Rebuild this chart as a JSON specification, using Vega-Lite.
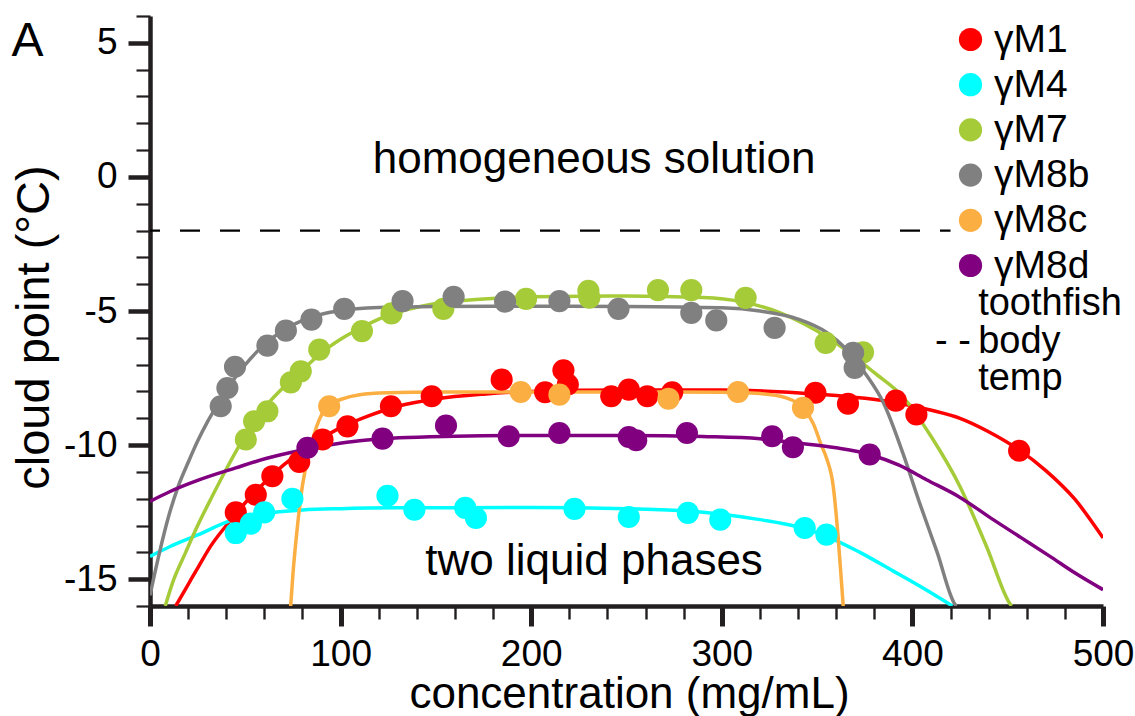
{
  "$schema": "https://vega.github.io/schema/vega-lite/v6.json",
  "width": 953,
  "height": 590,
  "autosize": {"type": "none"},
  "padding": {"left": 150, "top": 16, "right": 32, "bottom": 110},
  "background": "white",
  "config": {
    "view": {"stroke": null},
    "font": "Liberation Sans"
  },
  "resolve": {"axis": {"x": "independent", "y": "independent"}},
  "datasets": {
    "points": [
      {"series": "γM1", "conc": 45, "temp": -12.51},
      {"series": "γM1", "conc": 55.5, "temp": -11.85},
      {"series": "γM1", "conc": 64.2, "temp": -11.16},
      {"series": "γM1", "conc": 78.3, "temp": -10.63},
      {"series": "γM1", "conc": 90.5, "temp": -9.79},
      {"series": "γM1", "conc": 103.6, "temp": -9.3},
      {"series": "γM1", "conc": 126.4, "temp": -8.55},
      {"series": "γM1", "conc": 147.8, "temp": -8.18},
      {"series": "γM1", "conc": 184.5, "temp": -7.56},
      {"series": "γM1", "conc": 207.3, "temp": -8.03},
      {"series": "γM1", "conc": 216.9, "temp": -7.21},
      {"series": "γM1", "conc": 219.2, "temp": -7.74},
      {"series": "γM1", "conc": 242, "temp": -8.18},
      {"series": "γM1", "conc": 251.2, "temp": -7.93},
      {"series": "γM1", "conc": 260.9, "temp": -8.18},
      {"series": "γM1", "conc": 274, "temp": -8.03},
      {"series": "γM1", "conc": 349.1, "temp": -8.05},
      {"series": "γM1", "conc": 366.2, "temp": -8.46},
      {"series": "γM1", "conc": 391.3, "temp": -8.34},
      {"series": "γM1", "conc": 402.1, "temp": -8.86},
      {"series": "γM1", "conc": 456, "temp": -10.21},
      {"series": "γM4", "conc": 45, "temp": -13.28},
      {"series": "γM4", "conc": 52.9, "temp": -12.93},
      {"series": "γM4", "conc": 59.9, "temp": -12.51},
      {"series": "γM4", "conc": 74.7, "temp": -12.0},
      {"series": "γM4", "conc": 124.6, "temp": -11.89},
      {"series": "γM4", "conc": 138.7, "temp": -12.41},
      {"series": "γM4", "conc": 165.4, "temp": -12.34},
      {"series": "γM4", "conc": 171, "temp": -12.72},
      {"series": "γM4", "conc": 222.7, "temp": -12.38},
      {"series": "γM4", "conc": 251.2, "temp": -12.68},
      {"series": "γM4", "conc": 282.2, "temp": -12.53},
      {"series": "γM4", "conc": 299.2, "temp": -12.78},
      {"series": "γM4", "conc": 343.5, "temp": -13.09},
      {"series": "γM4", "conc": 354.9, "temp": -13.34},
      {"series": "γM7", "conc": 50.3, "temp": -9.79},
      {"series": "γM7", "conc": 54.6, "temp": -9.11},
      {"series": "γM7", "conc": 61.6, "temp": -8.74},
      {"series": "γM7", "conc": 73.9, "temp": -7.66},
      {"series": "γM7", "conc": 79.1, "temp": -7.25},
      {"series": "γM7", "conc": 88.8, "temp": -6.44},
      {"series": "γM7", "conc": 111.2, "temp": -5.75},
      {"series": "γM7", "conc": 126.7, "temp": -5.09},
      {"series": "γM7", "conc": 153.9, "temp": -4.92},
      {"series": "γM7", "conc": 197.3, "temp": -4.55},
      {"series": "γM7", "conc": 230, "temp": -4.25},
      {"series": "γM7", "conc": 230.5, "temp": -4.5},
      {"series": "γM7", "conc": 266.5, "temp": -4.22},
      {"series": "γM7", "conc": 284, "temp": -4.22},
      {"series": "γM7", "conc": 312.5, "temp": -4.51},
      {"series": "γM7", "conc": 354.5, "temp": -6.19},
      {"series": "γM7", "conc": 374.1, "temp": -6.54},
      {"series": "γM8b", "conc": 37.1, "temp": -8.55},
      {"series": "γM8b", "conc": 40.6, "temp": -7.87},
      {"series": "γM8b", "conc": 44.6, "temp": -7.08},
      {"series": "γM8b", "conc": 61.6, "temp": -6.29},
      {"series": "γM8b", "conc": 71.3, "temp": -5.73},
      {"series": "γM8b", "conc": 84.7, "temp": -5.32},
      {"series": "γM8b", "conc": 101.9, "temp": -4.92},
      {"series": "γM8b", "conc": 132.5, "temp": -4.63},
      {"series": "γM8b", "conc": 159.3, "temp": -4.47},
      {"series": "γM8b", "conc": 186.3, "temp": -4.65},
      {"series": "γM8b", "conc": 214.8, "temp": -4.63},
      {"series": "γM8b", "conc": 245.8, "temp": -4.92},
      {"series": "γM8b", "conc": 284, "temp": -5.07},
      {"series": "γM8b", "conc": 297.1, "temp": -5.35},
      {"series": "γM8b", "conc": 327.7, "temp": -5.63},
      {"series": "γM8b", "conc": 368.9, "temp": -6.56},
      {"series": "γM8b", "conc": 369.7, "temp": -7.12},
      {"series": "γM8c", "conc": 94, "temp": -8.55},
      {"series": "γM8c", "conc": 194.5, "temp": -8.02},
      {"series": "γM8c", "conc": 214.8, "temp": -8.12},
      {"series": "γM8c", "conc": 272, "temp": -8.27},
      {"series": "γM8c", "conc": 308.5, "temp": -8.02},
      {"series": "γM8c", "conc": 342.6, "temp": -8.61},
      {"series": "γM8d", "conc": 82.6, "temp": -10.1},
      {"series": "γM8d", "conc": 122, "temp": -9.76},
      {"series": "γM8d", "conc": 155.3, "temp": -9.27},
      {"series": "γM8d", "conc": 188.2, "temp": -9.67},
      {"series": "γM8d", "conc": 214.8, "temp": -9.55},
      {"series": "γM8d", "conc": 251.2, "temp": -9.7},
      {"series": "γM8d", "conc": 255.1, "temp": -9.82},
      {"series": "γM8d", "conc": 281.7, "temp": -9.55},
      {"series": "γM8d", "conc": 326.4, "temp": -9.67},
      {"series": "γM8d", "conc": 337.3, "temp": -10.08},
      {"series": "γM8d", "conc": 377.6, "temp": -10.35}
    ],
    "fits": [
      {"series": "γM1", "conc": 13.5, "temp": -16},
      {"series": "γM1", "conc": 20, "temp": -15.2},
      {"series": "γM1", "conc": 25.7, "temp": -14.5},
      {"series": "γM1", "conc": 32, "temp": -13.75},
      {"series": "γM1", "conc": 40, "temp": -13.0},
      {"series": "γM1", "conc": 50, "temp": -12.15},
      {"series": "γM1", "conc": 60, "temp": -11.4},
      {"series": "γM1", "conc": 70, "temp": -10.75},
      {"series": "γM1", "conc": 80, "temp": -10.2},
      {"series": "γM1", "conc": 90, "temp": -9.75},
      {"series": "γM1", "conc": 100, "temp": -9.35},
      {"series": "γM1", "conc": 115, "temp": -8.9},
      {"series": "γM1", "conc": 130, "temp": -8.55},
      {"series": "γM1", "conc": 150, "temp": -8.28},
      {"series": "γM1", "conc": 175, "temp": -8.1},
      {"series": "γM1", "conc": 200, "temp": -8.0},
      {"series": "γM1", "conc": 250, "temp": -7.95},
      {"series": "γM1", "conc": 300, "temp": -7.95},
      {"series": "γM1", "conc": 350, "temp": -8.1},
      {"series": "γM1", "conc": 390, "temp": -8.4},
      {"series": "γM1", "conc": 410, "temp": -8.7},
      {"series": "γM1", "conc": 425, "temp": -9.0},
      {"series": "γM1", "conc": 440, "temp": -9.5},
      {"series": "γM1", "conc": 456, "temp": -10.18},
      {"series": "γM1", "conc": 470, "temp": -10.95},
      {"series": "γM1", "conc": 485, "temp": -12.0},
      {"series": "γM1", "conc": 500, "temp": -13.46},
      {"series": "γM4", "conc": 0, "temp": -14.15},
      {"series": "γM4", "conc": 10, "temp": -13.8},
      {"series": "γM4", "conc": 25, "temp": -13.35},
      {"series": "γM4", "conc": 43, "temp": -12.8},
      {"series": "γM4", "conc": 60, "temp": -12.55},
      {"series": "γM4", "conc": 80, "temp": -12.42},
      {"series": "γM4", "conc": 100, "temp": -12.37},
      {"series": "γM4", "conc": 130, "temp": -12.34},
      {"series": "γM4", "conc": 200, "temp": -12.33},
      {"series": "γM4", "conc": 250, "temp": -12.37},
      {"series": "γM4", "conc": 280, "temp": -12.45},
      {"series": "γM4", "conc": 300, "temp": -12.58},
      {"series": "γM4", "conc": 320, "temp": -12.78},
      {"series": "γM4", "conc": 340, "temp": -13.05},
      {"series": "γM4", "conc": 355, "temp": -13.4},
      {"series": "γM4", "conc": 372.5, "temp": -14.0},
      {"series": "γM4", "conc": 390, "temp": -14.7},
      {"series": "γM4", "conc": 406, "temp": -15.35},
      {"series": "γM4", "conc": 421, "temp": -16},
      {"series": "γM7", "conc": 8, "temp": -16},
      {"series": "γM7", "conc": 12, "temp": -15.1},
      {"series": "γM7", "conc": 18.7, "temp": -14.0},
      {"series": "γM7", "conc": 25, "temp": -13.0},
      {"series": "γM7", "conc": 32.7, "temp": -11.9},
      {"series": "γM7", "conc": 40, "temp": -10.9},
      {"series": "γM7", "conc": 47, "temp": -10.0},
      {"series": "γM7", "conc": 55, "temp": -9.1},
      {"series": "γM7", "conc": 62, "temp": -8.45},
      {"series": "γM7", "conc": 70, "temp": -7.85},
      {"series": "γM7", "conc": 80, "temp": -7.2},
      {"series": "γM7", "conc": 90, "temp": -6.55},
      {"series": "γM7", "conc": 100, "temp": -6.05},
      {"series": "γM7", "conc": 110, "temp": -5.65},
      {"series": "γM7", "conc": 120, "temp": -5.3},
      {"series": "γM7", "conc": 135, "temp": -4.95},
      {"series": "γM7", "conc": 150, "temp": -4.72},
      {"series": "γM7", "conc": 175, "temp": -4.55},
      {"series": "γM7", "conc": 200, "temp": -4.47},
      {"series": "γM7", "conc": 250, "temp": -4.44},
      {"series": "γM7", "conc": 290, "temp": -4.5},
      {"series": "γM7", "conc": 310, "temp": -4.65},
      {"series": "γM7", "conc": 330, "temp": -5.05},
      {"series": "γM7", "conc": 350, "temp": -5.75},
      {"series": "γM7", "conc": 365, "temp": -6.45},
      {"series": "γM7", "conc": 380, "temp": -7.3},
      {"series": "γM7", "conc": 395, "temp": -8.2},
      {"series": "γM7", "conc": 410, "temp": -9.7},
      {"series": "γM7", "conc": 425, "temp": -11.55},
      {"series": "γM7", "conc": 439, "temp": -13.8},
      {"series": "γM7", "conc": 451, "temp": -15.9},
      {"series": "γM7", "conc": 452, "temp": -16},
      {"series": "γM8b", "conc": 0, "temp": -15.6},
      {"series": "γM8b", "conc": 5, "temp": -14.0},
      {"series": "γM8b", "conc": 10, "temp": -12.6},
      {"series": "γM8b", "conc": 15, "temp": -11.5},
      {"series": "γM8b", "conc": 20, "temp": -10.65},
      {"series": "γM8b", "conc": 25, "temp": -9.85},
      {"series": "γM8b", "conc": 30, "temp": -9.15},
      {"series": "γM8b", "conc": 35, "temp": -8.55},
      {"series": "γM8b", "conc": 40, "temp": -7.98},
      {"series": "γM8b", "conc": 45, "temp": -7.45},
      {"series": "γM8b", "conc": 50, "temp": -7.0},
      {"series": "γM8b", "conc": 60, "temp": -6.25},
      {"series": "γM8b", "conc": 70, "temp": -5.72},
      {"series": "γM8b", "conc": 80, "temp": -5.35},
      {"series": "γM8b", "conc": 90, "temp": -5.12},
      {"series": "γM8b", "conc": 100, "temp": -4.98},
      {"series": "γM8b", "conc": 120, "temp": -4.87},
      {"series": "γM8b", "conc": 150, "temp": -4.83},
      {"series": "γM8b", "conc": 200, "temp": -4.82},
      {"series": "γM8b", "conc": 250, "temp": -4.83},
      {"series": "γM8b", "conc": 300, "temp": -4.88},
      {"series": "γM8b", "conc": 320, "temp": -5.0},
      {"series": "γM8b", "conc": 340, "temp": -5.3},
      {"series": "γM8b", "conc": 355, "temp": -5.8},
      {"series": "γM8b", "conc": 365, "temp": -6.4},
      {"series": "γM8b", "conc": 375, "temp": -7.3},
      {"series": "γM8b", "conc": 385, "temp": -8.45},
      {"series": "γM8b", "conc": 395, "temp": -10.3},
      {"series": "γM8b", "conc": 404, "temp": -12.2},
      {"series": "γM8b", "conc": 413, "temp": -14.0},
      {"series": "γM8b", "conc": 422, "temp": -15.9},
      {"series": "γM8b", "conc": 423, "temp": -16},
      {"series": "γM8c", "conc": 73.8, "temp": -16},
      {"series": "γM8c", "conc": 75, "temp": -14.8},
      {"series": "γM8c", "conc": 77.4, "temp": -13.0},
      {"series": "γM8c", "conc": 80, "temp": -11.5},
      {"series": "γM8c", "conc": 83.5, "temp": -10.3},
      {"series": "γM8c", "conc": 88.8, "temp": -9.05},
      {"series": "γM8c", "conc": 94, "temp": -8.5},
      {"series": "γM8c", "conc": 100, "temp": -8.3},
      {"series": "γM8c", "conc": 110, "temp": -8.12},
      {"series": "γM8c", "conc": 125, "temp": -8.05},
      {"series": "γM8c", "conc": 150, "temp": -8.02},
      {"series": "γM8c", "conc": 200, "temp": -8.02},
      {"series": "γM8c", "conc": 250, "temp": -8.02},
      {"series": "γM8c", "conc": 300, "temp": -8.03},
      {"series": "γM8c", "conc": 320, "temp": -8.08},
      {"series": "γM8c", "conc": 333.8, "temp": -8.24},
      {"series": "γM8c", "conc": 342.6, "temp": -8.6},
      {"series": "γM8c", "conc": 348, "temp": -9.2},
      {"series": "γM8c", "conc": 352.2, "temp": -10.0},
      {"series": "γM8c", "conc": 355, "temp": -10.5},
      {"series": "γM8c", "conc": 358.4, "temp": -11.5},
      {"series": "γM8c", "conc": 361, "temp": -13.4},
      {"series": "γM8c", "conc": 363.6, "temp": -15.9},
      {"series": "γM8c", "conc": 363.7, "temp": -16},
      {"series": "γM8d", "conc": 0, "temp": -12.1},
      {"series": "γM8d", "conc": 10, "temp": -11.75},
      {"series": "γM8d", "conc": 25.7, "temp": -11.3},
      {"series": "γM8d", "conc": 45, "temp": -10.85},
      {"series": "γM8d", "conc": 60.8, "temp": -10.5},
      {"series": "γM8d", "conc": 80, "temp": -10.18},
      {"series": "γM8d", "conc": 95.7, "temp": -9.98},
      {"series": "γM8d", "conc": 110, "temp": -9.84},
      {"series": "γM8d", "conc": 130.8, "temp": -9.73},
      {"series": "γM8d", "conc": 160, "temp": -9.67},
      {"series": "γM8d", "conc": 200, "temp": -9.64},
      {"series": "γM8d", "conc": 250, "temp": -9.64},
      {"series": "γM8d", "conc": 290, "temp": -9.68},
      {"series": "γM8d", "conc": 320, "temp": -9.76},
      {"series": "γM8d", "conc": 337, "temp": -9.9},
      {"series": "γM8d", "conc": 360, "temp": -10.1},
      {"series": "γM8d", "conc": 377.6, "temp": -10.35},
      {"series": "γM8d", "conc": 393, "temp": -10.75},
      {"series": "γM8d", "conc": 407.4, "temp": -11.29},
      {"series": "γM8d", "conc": 425, "temp": -11.95},
      {"series": "γM8d", "conc": 442.4, "temp": -12.78},
      {"series": "γM8d", "conc": 457, "temp": -13.45},
      {"series": "γM8d", "conc": 472.2, "temp": -14.15},
      {"series": "γM8d", "conc": 486, "temp": -14.8},
      {"series": "γM8d", "conc": 500, "temp": -15.39}
    ]
  },
  "layer": [
    {
      "data": {"values": [{}]},
      "mark": {"type": "rule", "color": "black", "strokeWidth": 2.2, "strokeDash": [20, 20], "strokeDashOffset": 10},
      "encoding": {
        "x": {
          "datum": 0,
          "type": "quantitative",
          "scale": {"domain": [0, 500], "nice": false, "zero": false},
          "axis": {
            "orient": "bottom",
            "values": [20, 40, 60, 80, 120, 140, 160, 180, 220, 240, 260, 280, 320, 340, 360, 380, 420, 440, 460, 480],
            "title": null,
            "labels": false,
            "domain": false,
            "grid": false,
            "tickColor": "#231f20",
            "tickSize": 13,
            "tickWidth": 2.4
          }
        },
        "x2": {"datum": 420},
        "y": {
          "datum": -2,
          "type": "quantitative",
          "scale": {"domain": [-16, 6], "nice": false, "zero": false},
          "axis": {
            "orient": "left",
            "values": [-16, -14, -13, -12, -11, -9, -8, -7, -6, -4, -3, -2, -1, 1, 2, 3, 4, 6],
            "title": null,
            "labels": false,
            "domain": false,
            "grid": false,
            "tickColor": "#231f20",
            "tickSize": 14,
            "tickWidth": 2.2
          }
        }
      }
    },
    {
      "data": {"name": "fits"},
      "mark": {"type": "line", "strokeWidth": 3.5, "interpolate": "monotone", "clip": true},
      "encoding": {
        "x": {
          "field": "conc",
          "type": "quantitative",
          "scale": {"domain": [0, 500], "nice": false, "zero": false},
          "axis": {
            "orient": "bottom",
            "title": "concentration (mg/mL)",
            "values": [0, 100, 200, 300, 400, 500],
            "format": "d",
            "grid": false,
            "domainColor": "#231f20",
            "domainWidth": 4.5,
            "tickColor": "#231f20",
            "tickSize": 20,
            "tickWidth": 5,
            "labelFont": "Liberation Sans",
            "labelFontSize": 37,
            "labelColor": "black",
            "labelBaseline": "alphabetic",
            "labelPadding": 39,
            "labelFlush": false,
            "labelOverlap": false,
            "titleFont": "Liberation Sans",
            "titleFontSize": 44,
            "titleFontWeight": "normal",
            "titleColor": "black",
            "titleBaseline": "alphabetic",
            "titleX": 479,
            "titleY": 101
          }
        },
        "y": {
          "field": "temp",
          "type": "quantitative",
          "scale": {"domain": [-16, 6], "nice": false, "zero": false},
          "axis": {
            "orient": "left",
            "title": "cloud point (°C)",
            "values": [-15, -10, -5, 0, 5],
            "labelExpr": "'' + datum.value",
            "grid": false,
            "domainColor": "#231f20",
            "domainWidth": 4.5,
            "tickColor": "#231f20",
            "tickSize": 22,
            "tickWidth": 4.5,
            "labelFont": "Liberation Sans",
            "labelFontSize": 37,
            "labelColor": "black",
            "labelPadding": 11,
            "labelFlush": false,
            "labelOverlap": false,
            "titleFont": "Liberation Sans",
            "titleFontSize": 47,
            "titleFontWeight": "normal",
            "titleColor": "black",
            "titleBaseline": "alphabetic",
            "titleAlign": "center",
            "titleAngle": -90,
            "titleX": -102,
            "titleY": 311
          }
        },
        "stroke": {
          "field": "series",
          "type": "nominal",
          "scale": {
            "range": ["#ff0000", "#00ffff", "#a5cb39", "#808080", "#fbae42", "#800080"]
          },
          "legend": null
        }
      }
    },
    {
      "data": {"name": "points"},
      "mark": {"type": "circle", "size": 490, "opacity": 1},
      "encoding": {
        "x": {"field": "conc", "type": "quantitative", "scale": {"domain": [0, 500], "nice": false, "zero": false}, "axis": null},
        "y": {"field": "temp", "type": "quantitative", "scale": {"domain": [-16, 6], "nice": false, "zero": false}, "axis": null},
        "color": {
          "field": "series",
          "type": "nominal",
          "scale": {
            "domain": ["γM1", "γM4", "γM7", "γM8b", "γM8c", "γM8d"],
            "range": ["#ff0000", "#00ffff", "#a5cb39", "#808080", "#fbae42", "#800080"]
          },
          "legend": {
            "title": null,
            "orient": "none",
            "legendX": 801,
            "legendY": 4,
            "symbolType": "circle",
            "symbolSize": 540,
            "symbolStrokeWidth": 0,
            "symbolOpacity": 1,
            "labelFont": "Liberation Sans",
            "labelFontSize": 39,
            "labelColor": "black",
            "labelOffset": 4,
            "rowPadding": 5.2,
            "padding": 0
          }
        }
      }
    },
    {
      "data": {"values": [{}]},
      "mark": {"type": "text", "text": "homogeneous solution", "font": "Liberation Sans", "fontSize": 44, "align": "center", "baseline": "alphabetic", "color": "black"},
      "encoding": {"x": {"datum": 233, "type": "quantitative", "axis": null}, "y": {"datum": 0.15, "type": "quantitative", "axis": null}}
    },
    {
      "data": {"values": [{}]},
      "mark": {"type": "text", "text": "two liquid phases", "font": "Liberation Sans", "fontSize": 44, "align": "center", "baseline": "alphabetic", "color": "black"},
      "encoding": {"x": {"datum": 233, "type": "quantitative", "axis": null}, "y": {"datum": -14.84, "type": "quantitative", "axis": null}}
    },
    {
      "data": {"values": [{}]},
      "mark": {"type": "text", "text": "A", "font": "Liberation Sans", "fontSize": 48, "align": "center", "baseline": "alphabetic", "color": "black"},
      "encoding": {"x": {"datum": -64.3, "type": "quantitative", "axis": null}, "y": {"datum": 4.5, "type": "quantitative", "axis": null}}
    },
    {
      "data": {"values": [{}]},
      "mark": {"type": "text", "text": "toothfish", "font": "Liberation Sans", "fontSize": 38, "align": "left", "baseline": "alphabetic", "color": "black"},
      "encoding": {"x": {"datum": 434.5, "type": "quantitative", "axis": null}, "y": {"datum": -5.14, "type": "quantitative", "axis": null}}
    },
    {
      "data": {"values": [{}]},
      "mark": {"type": "text", "text": "body", "font": "Liberation Sans", "fontSize": 38, "align": "left", "baseline": "alphabetic", "color": "black"},
      "encoding": {"x": {"datum": 434.5, "type": "quantitative", "axis": null}, "y": {"datum": -6.57, "type": "quantitative", "axis": null}}
    },
    {
      "data": {"values": [{}]},
      "mark": {"type": "text", "text": "- -", "font": "Liberation Sans", "fontSize": 38, "align": "left", "baseline": "alphabetic", "color": "black"},
      "encoding": {"x": {"datum": 411.9, "type": "quantitative", "axis": null}, "y": {"datum": -6.57, "type": "quantitative", "axis": null}}
    },
    {
      "data": {"values": [{}]},
      "mark": {"type": "text", "text": "temp", "font": "Liberation Sans", "fontSize": 38, "align": "left", "baseline": "alphabetic", "color": "black"},
      "encoding": {"x": {"datum": 434.5, "type": "quantitative", "axis": null}, "y": {"datum": -7.94, "type": "quantitative", "axis": null}}
    }
  ]
}
